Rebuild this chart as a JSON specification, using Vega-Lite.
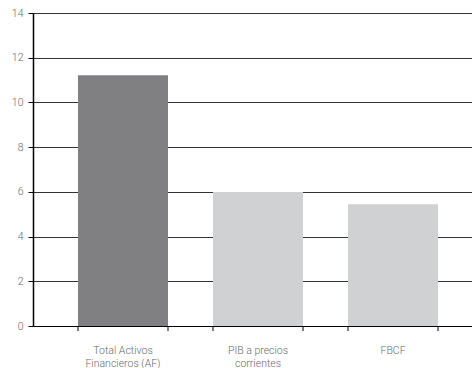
{
  "$schema": "https://vega.github.io/schema/vega-lite/v6.json",
  "autosize": "none",
  "padding": {"left": 33, "top": 13, "right": 0, "bottom": 42},
  "width": 450,
  "height": 313,
  "background": "white",
  "config": {"view": {"stroke": null}, "font": "Roboto"},
  "data": {"values": [
    {"cat": "Total Activos|Financieros (AF)", "value": 11.22, "tipo": "a"},
    {"cat": "PIB a precios|corrientes", "value": 5.99, "tipo": "b"},
    {"cat": "FBCF", "value": 5.45, "tipo": "b"}
  ]},
  "encoding": {
    "x": {"field": "cat", "type": "nominal", "sort": null,
      "scale": {"paddingInner": 0.3333, "paddingOuter": 0.3333},
      "axis": {"title": null, "ticks": false, "labelAngle": 0, "labelExpr": "split(datum.label, '|')",
        "labelFontSize": 10.5, "labelColor": "#6a6a6a", "labelPadding": 19, "labelLineHeight": 13,
        "domainColor": "#000000", "domainWidth": 1.2, "labelFont": "Roboto", "labelFontWeight": 300}}
  },
  "layer": [
    {
      "mark": {"type": "bar"},
      "encoding": {
        "y": {"field": "value", "type": "quantitative",
          "scale": {"domain": [0, 14]},
          "axis": {"title": null, "values": [0, 2, 4, 6, 8, 10, 12, 14], "grid": true, "gridColor": "#333333", "gridWidth": 1,
            "tickColor": "#000000", "tickSize": 5, "domainColor": "#000000", "domainWidth": 1.5,
            "labelFontSize": 10.5, "labelColor": "#6a6a6a", "labelPadding": 5, "labelFont": "Roboto", "labelFontWeight": 300}},
        "color": {"field": "tipo", "type": "nominal", "legend": null,
          "scale": {"domain": ["a", "b"], "range": ["#808083", "#d0d1d3"]}}
      }
    },
    {
      "mark": {"type": "rule", "color": "#000000", "strokeWidth": 1, "y2Offset": 5},
      "encoding": {
        "x": {"field": "cat", "type": "nominal", "sort": null, "bandPosition": 0},
        "y": {"datum": 0, "type": "quantitative"},
        "y2": {"datum": 0}
      }
    },
    {
      "mark": {"type": "rule", "color": "#000000", "strokeWidth": 1, "y2Offset": 5},
      "encoding": {
        "x": {"field": "cat", "type": "nominal", "sort": null, "bandPosition": 1},
        "y": {"datum": 0, "type": "quantitative"},
        "y2": {"datum": 0}
      }
    }
  ]
}
